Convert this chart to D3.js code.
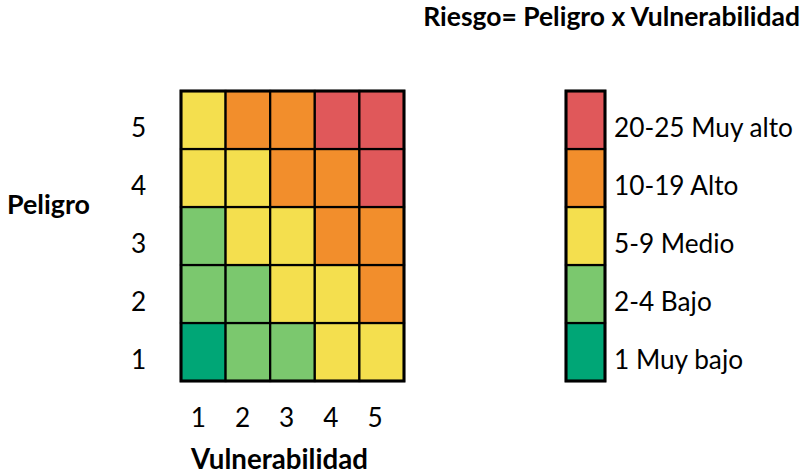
<!DOCTYPE html>
<html><head><meta charset="utf-8">
<script src="https://cdn.jsdelivr.net/npm/d3@7"></script>
<style>body{margin:0;background:#fff}svg{display:block}text{font-family:Lato,"Open Sans",sans-serif;fill:#000}</style>
</head><body><svg id="c" width="806" height="475"></svg>
<script>
const vulnerabilidad = [1,2,3,4,5];
const peligro = [1,2,3,4,5];
// nivel de riesgo por fila de peligro (1..5), columnas vulnerabilidad 1..5
const niveles = [
  [1,2,2,3,3],
  [2,2,3,3,4],
  [2,3,3,4,4],
  [3,3,4,4,5],
  [3,4,4,5,5]
];
const nivelIds = [1,2,3,4,5];
const nivelLabels = ["1 Muy bajo","2-4 Bajo","5-9 Medio","10-19 Alto","20-25 Muy alto"];
const nivelColors = ["#00A676","#7BC86E","#F4DF4E","#F28E2C","#E0585A"];
const title = "Riesgo= Peligro x Vulnerabilidad";
const xTitle = "Vulnerabilidad";
const yTitle = "Peligro";

const svg = d3.select("#c");
const color = d3.scaleOrdinal().domain(nivelIds).range(nivelColors);
const x = d3.scaleBand().domain(vulnerabilidad).range([181,404]);
const y = d3.scaleBand().domain(peligro.slice().reverse()).range([91,381]);
const ly = d3.scaleBand().domain(nivelIds.slice().reverse()).range([91,381]);
const lx = [566,605];

function fit(sel, target){
  const w = sel.node().getComputedTextLength();
  const s = parseFloat(sel.attr("font-size"));
  sel.attr("font-size", s*target/w);
  return s*target/w;
}

const cells = [];
peligro.forEach((p,i)=>vulnerabilidad.forEach((v,j)=>cells.push({p,v,n:niveles[i][j]})));

const g = svg.append("g");
g.selectAll("rect.cell").data(cells).join("rect")
  .attr("x",d=>x(d.v)).attr("y",d=>y(d.p))
  .attr("width",x.bandwidth()).attr("height",y.bandwidth())
  .attr("fill",d=>color(d.n)).attr("stroke","#000").attr("stroke-width",2.2);
g.append("rect").attr("x",181).attr("y",91).attr("width",223).attr("height",290)
  .attr("fill","none").attr("stroke","#000").attr("stroke-width",3);

// legend
svg.selectAll("rect.leg").data(nivelIds).join("rect")
  .attr("x",lx[0]).attr("y",d=>ly(d)).attr("width",lx[1]-lx[0]).attr("height",ly.bandwidth())
  .attr("fill",d=>color(d)).attr("stroke","#000").attr("stroke-width",2.2);
svg.append("rect").attr("x",lx[0]).attr("y",91).attr("width",lx[1]-lx[0]).attr("height",290)
  .attr("fill","none").attr("stroke","#000").attr("stroke-width",3);

// legend labels
const lt = svg.selectAll("text.leg").data(nivelIds).join("text").attr("class","leg")
  .attr("x",614).attr("y",d=>ly(d)+ly.bandwidth()/2+17)
  .attr("font-size",22).text((d,i)=>nivelLabels[i]);
const fs = fit(d3.select(lt.nodes()[4]), 179);
lt.attr("font-size",fs);

// tick labels
svg.selectAll("text.yt").data(peligro).join("text")
  .attr("x",138.5).attr("y",d=>y(d)+y.bandwidth()/2+17).attr("text-anchor","middle")
  .attr("font-size",fs).text(d=>d);
svg.selectAll("text.xt").data(vulnerabilidad).join("text")
  .attr("x",(d,i)=>x(d)+x.bandwidth()/2-5+(i*-0.4)).attr("y",427).attr("text-anchor","middle")
  .attr("font-size",fs).text(d=>d);

// titles
const t = svg.append("text").attr("x",800).attr("y",26).attr("text-anchor","end")
  .attr("font-weight","bold").attr("font-size",20).text(title);
fit(t,377);
const xt = svg.append("text").attr("x",279.5).attr("y",469).attr("text-anchor","middle")
  .attr("font-weight","bold").attr("font-size",20).text(xTitle);
fit(xt,177);
const yt = svg.append("text").attr("x",48.5).attr("y",214).attr("text-anchor","middle")
  .attr("font-weight","bold").attr("font-size",20).text(yTitle);
fit(yt,83);
</script></body></html>
